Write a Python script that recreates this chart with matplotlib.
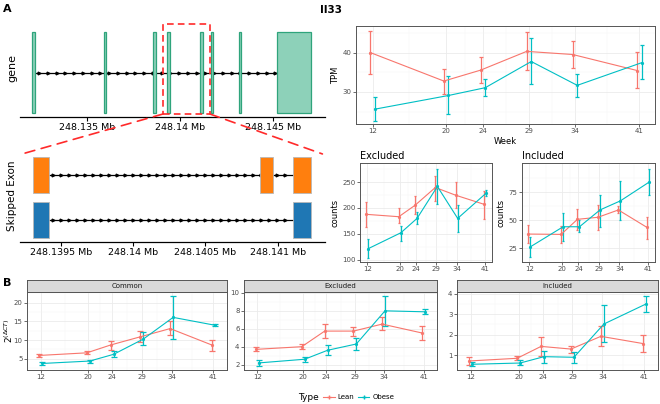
import numpy as np
import matplotlib.pyplot as plt
from matplotlib.patches import Rectangle, ConnectionPatch
from matplotlib.lines import Line2D

W, H = 660, 404
LEAN = '#F8766D'
OBESE = '#00BFC4'

weeks = [12, 20, 24, 29, 34, 41]

# gene model, Mb
gene_exons = [(248.13207, 248.13220), (248.13589, 248.13602), (248.13855, 248.13871),
              (248.13930, 248.13944), (248.14110, 248.14126), (248.14167, 248.14177),
              (248.14317, 248.14331), (248.14521, 248.14704)]
gene_ticks = [248.135, 248.14, 248.145]
gene_ticklabels = ['248.135 Mb', '248.14 Mb', '248.145 Mb']
zoom_region = (248.13909, 248.14161)

# skipped exon transcripts, Mb
incl_exons = [(248.139306, 248.139417), (248.140878, 248.140968), (248.141107, 248.141231)]
excl_exons = [(248.139306, 248.139417), (248.141107, 248.141231)]
skip_ticks = [248.1395, 248.14, 248.1405, 248.141]
skip_ticklabels = ['248.1395 Mb', '248.14 Mb', '248.1405 Mb', '248.141 Mb']

# (mean, low, high) per week
tpm_lean = ([40.1, 32.8, 35.6, 40.4, 39.6, 35.5],
            [34.6, 29.6, 32.3, 35.6, 36.1, 31.1],
            [45.6, 35.8, 38.9, 45.4, 43.0, 40.2])
tpm_obese = ([25.6, 29.1, 31.1, 37.8, 31.7, 37.5],
             [22.6, 24.3, 29.0, 32.0, 28.7, 33.2],
             [28.7, 34.1, 33.4, 43.7, 34.7, 42.0])

exA_lean = ([187.7, 183.1, 205.2, 239.6, 224.7, 207.1],
            [163.6, 171.4, 188.3, 214.3, 200.0, 179.2],
            [211.7, 200.0, 223.4, 262.3, 250.6, 233.1])
exA_obese = ([121.4, 152.0, 179.9, 241.6, 179.9, 228.6],
             [103.9, 136.4, 168.2, 207.8, 152.6, 223.4],
             [139.6, 165.0, 192.9, 275.3, 205.8, 235.0])

inA_lean = ([37.8, 37.5, 50.9, 52.7, 59.2, 43.7],
            [29.5, 29.5, 41.4, 41.4, 56.3, 33.0],
            [45.8, 45.0, 60.4, 63.7, 62.8, 53.3])
inA_obese = ([26.5, 44.3, 44.3, 59.2, 67.3, 83.9],
             [17.0, 31.8, 39.9, 44.3, 50.3, 72.9],
             [35.4, 56.8, 50.3, 72.6, 84.5, 95.5])

comB_lean = ([5.9, 6.6, 8.7, 10.9, 13.1, 8.7],
             [5.45, 6.2, 7.4, 9.4, 11.3, 7.05],
             [6.25, 7.2, 9.7, 12.4, 15.2, 10.0])
comB_obese = ([3.75, 4.4, 6.2, 10.3, 16.1, 14.0],
              [3.3, 4.0, 5.35, 8.7, 10.4, 13.7],
              [4.2, 4.7, 7.1, 12.05, 21.9, 14.3])

exB_lean = ([3.7, 4.0, 5.74, 5.74, 6.52, 5.52],
            [3.48, 3.74, 5.0, 5.19, 5.85, 4.7],
            [3.93, 4.3, 6.48, 6.22, 7.26, 6.3])
exB_obese = ([2.19, 2.6, 3.6, 4.3, 8.0, 7.89],
             [1.89, 2.3, 3.07, 3.63, 6.33, 7.6],
             [2.56, 2.9, 4.15, 5.0, 9.67, 8.19])

inB_lean = ([0.72, 0.85, 1.43, 1.3, 1.92, 1.57],
            [0.54, 0.75, 0.97, 1.13, 1.43, 1.16],
            [0.93, 0.97, 1.87, 1.46, 2.41, 1.98])
inB_obese = ([0.56, 0.62, 0.93, 0.9, 2.52, 3.49],
             [0.48, 0.51, 0.64, 0.64, 1.62, 3.1],
             [0.67, 0.75, 1.23, 1.16, 3.43, 3.89])


def px_rect(x0, y0, x1, y1):
    return [x0 / W, 1 - y1 / H, (x1 - x0) / W, (y1 - y0) / H]


def track_axes(fig, rect, xlim, ticks, labels):
    ax = fig.add_axes(px_rect(*rect))
    ax.set_xlim(*xlim)
    ax.set_ylim(0, 1)
    for s in ['top', 'right', 'left']:
        ax.spines[s].set_visible(False)
    ax.spines['bottom'].set_linewidth(0.9)
    ax.set_yticks([])
    ax.set_xticks(ticks)
    ax.set_xticklabels(labels, fontsize=6.8)
    ax.tick_params(axis='x', length=3, width=0.8, pad=1.5)
    return ax


def intron(ax, x0, x1, y, step):
    ax.plot([x0, x1], [y, y], color='black', lw=0.9, zorder=1)
    pts = np.arange(x0 + step / 2, x1, step)
    ax.plot(pts, [y] * len(pts), ls='none', marker='>', ms=2.0, color='black', zorder=1)


def gg_axes(fig, rect, xlim, ylim, yticks):
    ax = fig.add_axes(px_rect(*rect))
    ax.set_xlim(*xlim)
    ax.set_ylim(*ylim)
    ax.set_xticks(weeks)
    ax.set_yticks(yticks)
    ax.set_xticks([(a + b) / 2 for a, b in zip(weeks[:-1], weeks[1:])], minor=True)
    step = yticks[1] - yticks[0]
    ax.set_yticks([yticks[0] - step / 2] + [t + step / 2 for t in yticks], minor=True)
    ax.set_ylim(*ylim)
    ax.grid(which='major', color='#EBEBEB', lw=0.6)
    ax.grid(which='minor', color='#F4F4F4', lw=0.35)
    ax.set_axisbelow(True)
    for s in ax.spines.values():
        s.set_color('#555555')
        s.set_linewidth(0.7)
    ax.tick_params(which='major', labelsize=5, labelcolor='#4D4D4D', color='#333333',
                   length=2, width=0.5, pad=1.2)
    ax.tick_params(which='minor', length=0)
    return ax


def draw_series(ax, lean, obese, cap):
    for (m, lo, hi), col, off in [(lean, LEAN, -0.25), (obese, OBESE, 0.25)]:
        m, lo, hi = np.array(m), np.array(lo), np.array(hi)
        x = np.array(weeks) + off
        ax.errorbar(x, m, yerr=[m - lo, hi - m], color=col, lw=0.8, elinewidth=0.9,
                    capsize=cap, capthick=0.9, marker='o', ms=1.3)


fig = plt.figure(figsize=(W / 100, H / 100), dpi=100)

fig.text(3 / W, 1 - 9 / H, 'A', fontsize=8, fontweight='bold', va='center')
fig.text(3 / W, 1 - 283 / H, 'B', fontsize=8, fontweight='bold', va='center')
fig.text(331 / W, 1 - 10 / H, 'Il33', fontsize=7.5, fontweight='bold', ha='center', va='center')

# gene track
gax = track_axes(fig, (20, 20, 325, 117), (248.13140, 248.14780), gene_ticks, gene_ticklabels)
y0, y1 = 0.041, 0.876
intron(gax, gene_exons[0][1], gene_exons[-1][0], (y0 + y1) / 2, 0.00047)
for s, e in gene_exons:
    gax.add_patch(Rectangle((s, y0), e - s, y1 - y0, facecolor='#8dd1b9',
                            edgecolor='#2fa47c', lw=0.9, zorder=2))
gax.add_patch(Rectangle((zoom_region[0], 0.031), zoom_region[1] - zoom_region[0], 0.928,
                        fill=False, edgecolor='#ff2a2a', lw=1.2, ls=(0, (4, 2.5)),
                        zorder=3, clip_on=False))
gax.set_ylabel('gene', fontsize=8, labelpad=2)

# skipped exon track
sax = track_axes(fig, (20, 150, 325, 242), (248.139216, 248.141328), skip_ticks, skip_ticklabels)
for exons, ylo, yhi, col in [(incl_exons, 0.533, 0.924, '#ff7f0e'),
                             (excl_exons, 0.043, 0.435, '#1f77b4')]:
    intron(sax, exons[0][1], exons[-1][0], (ylo + yhi) / 2, 0.0000555)
    for s, e in exons:
        sax.add_patch(Rectangle((s, ylo), e - s, yhi - ylo, facecolor=col,
                                edgecolor='#b8b8b8', lw=0.6, zorder=2))
sax.set_ylabel('Skipped Exon', fontsize=7.5, labelpad=2)

for xa, xb in [(zoom_region[0], 248.13923), (zoom_region[1], 248.14131)]:
    con = ConnectionPatch(xyA=(xa, 0.031), coordsA=gax.transData,
                          xyB=(xb, 0.957), coordsB=sax.transData,
                          color='#ff2a2a', lw=1.2, ls=(0, (6, 4)))
    fig.add_artist(con)

# TPM
tax = gg_axes(fig, (356, 26, 655, 124), (10.2, 42.7), (21.8, 46.9), [30, 40])
draw_series(tax, tpm_lean, tpm_obese, 1.5)
tax.set_ylabel('TPM', fontsize=6, labelpad=2)
tax.set_xlabel('Week', fontsize=6, labelpad=2)

# Excluded / Included counts
eax = gg_axes(fig, (360, 163, 492, 262), (10.2, 42.7), (95.5, 287), [100, 150, 200, 250])
draw_series(eax, exA_lean, exA_obese, 1.0)
eax.set_ylabel('counts', fontsize=6, labelpad=2)
eax.set_title('Excluded', fontsize=7, loc='left', pad=3)

iax = gg_axes(fig, (522, 163, 655, 262), (10.2, 42.7), (13, 100.9), [25, 50, 75])
draw_series(iax, inA_lean, inA_obese, 1.0)
iax.set_ylabel('counts', fontsize=6, labelpad=2)
iax.set_title('Included', fontsize=7, loc='left', pad=3)

# panel B facets
facets = [('Common', (27, 227), comB_lean, comB_obese, (2.0, 22.9), [5, 10, 15, 20]),
          ('Excluded', (244, 437), exB_lean, exB_obese, (1.4, 10.1), [2, 4, 6, 8, 10]),
          ('Included', (457, 658), inB_lean, inB_obese, (0.28, 4.08), [1, 2, 3, 4])]
for name, (xa, xb), lean, obese, ylim, yt in facets:
    ax = gg_axes(fig, (xa, 292, xb, 370), (9.7, 43.3), ylim, yt)
    draw_series(ax, lean, obese, 2.2)
    strip = fig.add_axes(px_rect(xa, 280, xb, 292))
    strip.set_facecolor('#D9D9D9')
    strip.set_xticks([])
    strip.set_yticks([])
    for s in strip.spines.values():
        s.set_color('#555555')
        s.set_linewidth(0.7)
    strip.text(0.5, 0.5, name, fontsize=5, color='#1A1A1A', ha='center', va='center',
               transform=strip.transAxes)
    if name == 'Common':
        ax.set_ylabel(r'$2^{(\Delta CT)}$', fontsize=6.5)
        ax.yaxis.set_label_coords(-0.06, 0.5)

# legend
fig.text(298 / W, 1 - 397 / H, 'Type', fontsize=6.5, va='center')
handles = [Line2D([], [], color=LEAN, lw=0.8, marker='+', ms=3),
           Line2D([], [], color=OBESE, lw=0.8, marker='+', ms=3)]
fig.legend(handles, ['Lean', 'Obese'], loc='center left',
           bbox_to_anchor=(320 / W, 1 - 397 / H), ncol=2, frameon=False, fontsize=5,
           handlelength=1.6, handletextpad=0.4, columnspacing=0.6, borderpad=0)

fig.savefig('out.png', dpi=100)
